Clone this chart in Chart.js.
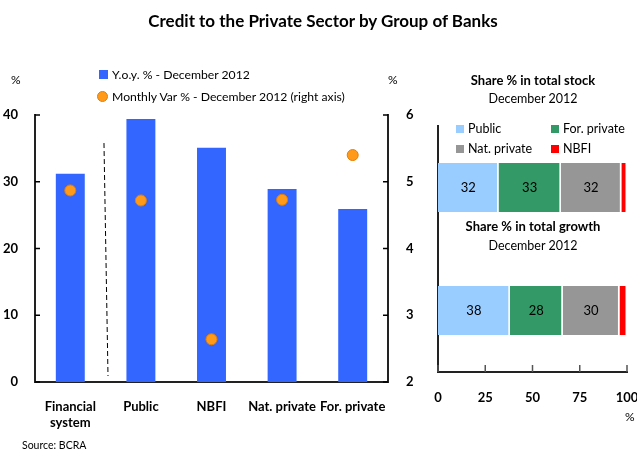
<!DOCTYPE html>
<html>
<head>
<meta charset="utf-8">
<script src="https://cdn.jsdelivr.net/npm/chart.js@4"></script>
<style>
body { margin: 0; background: #fff; font-family: Lato, sans-serif; color: #000; }
#page { position: relative; width: 637px; height: 450px; overflow: hidden; }
.box { position: absolute; top: 0; }
.t { position: absolute; white-space: nowrap; line-height: 1; }
.c { transform: translateX(-50%); }
.b { font-weight: bold; }
.sq { position: absolute; width: 8px; height: 8px; }
.dot { position: absolute; width: 9px; height: 9px; border-radius: 50%; border: 1px solid #e67e00; }
</style>
</head>
<body>
<div id="page">
  <div class="box" style="left:0"><canvas id="leftChart" width="420" height="450"></canvas></div>
  <div class="box" style="left:420px"><canvas id="rightChart" width="217" height="450"></canvas></div>

  <div class="t c b" style="left:323px; top:12px; font-size:17px">Credit to the Private Sector by Group of Banks</div>
  <div class="t" style="left:11px; top:74px; font-size:12px">%</div>
  <div class="t" style="left:388px; top:74px; font-size:12px">%</div>
  <div id="leftLegend"></div>

  <div class="t c b" style="left:533px; top:74px; font-size:13px">Share % in total stock</div>
  <div class="t c" style="left:533px; top:93px; font-size:12.5px">December 2012</div>
  <div class="t c b" style="left:533px; top:220px; font-size:13px">Share % in total growth</div>
  <div class="t c" style="left:533px; top:240px; font-size:12.5px">December 2012</div>
  <div id="rightLegend"></div>
  <div class="t" style="left:625px; top:411px; font-size:12px">%</div>
  <div class="t" style="left:22px; top:440px; font-size:10.5px">Source: BCRA</div>
</div>

<script>
let banks = ['Financial system', 'Public', 'NBFI', 'Nat. private', 'For. private']
let yoyGrowth = [31.2, 39.4, 35.1, 28.9, 25.9]
let monthlyVar = [4.87, 4.72, 2.64, 4.73, 5.40]
let seriesNames = ['Y.o.y. % - December 2012', 'Monthly Var % - December 2012 (right axis)']

let groups = ['Public', 'For. private', 'Nat. private', 'NBFI']
let stockShare = [32, 33, 32, 3]
let growthShare = [38, 28, 30, 4]
let shareRows = ['Share % in total stock', 'Share % in total growth']

let groupColors = ['#99ccff', '#339966', '#969696', '#ff0000']
let tickFont = { family: 'Lato', weight: 'bold', size: 13 }

// small ticks pointing into the plot
let innerTicks = {
  id: 'innerTicks',
  afterDatasetsDraw(chart, args, opts) {
    let ctx = chart.ctx
    ctx.save()
    ctx.strokeStyle = opts.color
    ctx.lineWidth = 1.5
    opts.scales.forEach(id => {
      let s = chart.scales[id]
      s.ticks.forEach((t, i) => {
        let p = s.getPixelForTick(i)
        ctx.beginPath()
        if (s.axis == 'y') {
          let x = s.position == 'left' ? s.right : s.left
          let dir = s.position == 'left' ? 1 : -1
          ctx.moveTo(x, p)
          ctx.lineTo(x + dir * opts.len, p)
        } else {
          ctx.moveTo(p, s.top)
          ctx.lineTo(p, s.top - opts.len)
        }
        ctx.stroke()
      })
    })
    ctx.restore()
  }
}

// dashed line between the system total and the bank groups
let divider = {
  id: 'divider',
  beforeDatasetsDraw(chart, args, opts) {
    let ctx = chart.ctx, x = chart.scales.x, y = chart.scales.y
    ctx.save()
    ctx.strokeStyle = '#000'
    ctx.lineWidth = 1
    ctx.setLineDash([5, 3])
    ctx.beginPath()
    ctx.moveTo(x.getPixelForValue(opts.from[0]), y.getPixelForValue(opts.from[1]))
    ctx.lineTo(x.getPixelForValue(opts.to[0]), y.getPixelForValue(opts.to[1]))
    ctx.stroke()
    ctx.restore()
  }
}

// numbers inside the stacked segments
let segLabels = {
  id: 'segLabels',
  afterDatasetsDraw(chart, args, opts) {
    let ctx = chart.ctx
    ctx.save()
    ctx.font = '13px Lato'
    ctx.fillStyle = '#000'
    ctx.textAlign = 'center'
    ctx.textBaseline = 'middle'
    chart.data.datasets.forEach((ds, di) => {
      chart.getDatasetMeta(di).data.forEach((el, i) => {
        if (ds.data[i] < opts.min) return
        ctx.fillText(ds.data[i], (el.x + el.base) / 2, el.y)
      })
    })
    ctx.restore()
  }
}

let leftCtx = document.getElementById('leftChart').getContext('2d')
let rightCtx = document.getElementById('rightChart').getContext('2d')

let leftChart = new Chart(leftCtx, {
  type: 'bar',
  data: {
    labels: banks.map(b => b == 'Financial system' ? ['Financial', 'system'] : b),
    datasets: [{
      label: seriesNames[1],
      type: 'line',
      data: monthlyVar,
      yAxisID: 'y1',
      showLine: false,
      pointRadius: 5.5,
      pointBackgroundColor: '#ff9a1a',
      pointBorderColor: '#e67e00',
      pointBorderWidth: 1,
      order: 0
    }, {
      label: seriesNames[0],
      data: yoyGrowth,
      yAxisID: 'y',
      backgroundColor: '#3366ff',
      categoryPercentage: 1,
      barPercentage: 0.41,
      order: 1
    }]
  },
  options: {
    responsive: false,
    animation: false,
    layout: { padding: { top: 115, left: 0, right: 0, bottom: 0 } },
    plugins: {
      legend: { display: false },
      tooltip: { enabled: false },
      innerTicks: { scales: ['y', 'y1'], len: 5, color: '#000' },
      divider: { from: [0.477, 35.8], to: [0.534, 0.9] }
    },
    scales: {
      x: {
        grid: { display: false },
        border: { color: '#222', width: 2 },
        ticks: { font: tickFont, color: '#000', padding: 9, maxRotation: 0, autoSkip: false },
        afterFit: s => { s.height = 68; s.paddingLeft = 0; s.paddingRight = 0 }
      },
      y: {
        position: 'left',
        min: 0, max: 40,
        grid: { display: false },
        border: { color: '#222', width: 2 },
        ticks: { stepSize: 10, font: tickFont, color: '#000', padding: 9 },
        afterFit: s => { s.width = 35 }
      },
      y1: {
        position: 'right',
        min: 2, max: 6,
        grid: { display: false },
        border: { color: '#222', width: 2 },
        ticks: { stepSize: 1, font: tickFont, color: '#000', padding: 10 },
        afterFit: s => { s.width = 32 }
      }
    }
  },
  plugins: [innerTicks, divider]
})

let rightChart = new Chart(rightCtx, {
  type: 'bar',
  data: {
    labels: shareRows,
    datasets: groups.map((g, i) => ({
      label: g,
      data: [stockShare[i], growthShare[i]],
      backgroundColor: groupColors[i],
      borderColor: '#fff',
      borderWidth: { left: 0, right: 1.5, top: 0, bottom: 0 },
      borderSkipped: false,
      categoryPercentage: 1,
      barPercentage: 0.4
    }))
  },
  options: {
    indexAxis: 'y',
    responsive: false,
    animation: false,
    layout: { padding: { top: 126, left: 0, right: 10, bottom: 0 } },
    plugins: {
      legend: { display: false },
      tooltip: { enabled: false },
      innerTicks: { scales: ['x'], len: 7, color: '#555' },
      segLabels: { min: 10 }
    },
    scales: {
      x: {
        stacked: true,
        min: 0, max: 100,
        grid: { display: false },
        border: { color: '#222', width: 2 },
        ticks: { stepSize: 25, font: tickFont, color: '#000', padding: 10, maxRotation: 0 },
        afterFit: s => { s.height = 78; s.paddingLeft = 0; s.paddingRight = 0 }
      },
      y: {
        stacked: true,
        grid: { display: false },
        border: { color: '#222', width: 2 },
        ticks: { display: false },
        afterFit: s => { s.width = 18 }
      }
    }
  },
  plugins: [innerTicks, segLabels]
})

// legends as plain text next to coloured marks
let leftLegend = document.getElementById('leftLegend')
leftLegend.innerHTML =
  '<div class="sq" style="left:99px; top:70px; width:9px; height:9px; background:#3366ff"></div>' +
  '<div class="t" style="left:112px; top:69px; font-size:12.2px">' + seriesNames[0] + '</div>' +
  '<div class="dot" style="left:97px; top:91px; background:#ff9a1a"></div>' +
  '<div class="t" style="left:112px; top:91px; font-size:12.2px">' + seriesNames[1] + '</div>'

let legendSpots = [[456, 125], [551, 125], [456, 145], [551, 145]]
let rightLegend = document.getElementById('rightLegend')
rightLegend.innerHTML = legendSpots.map((p, i) =>
  '<div class="sq" style="left:' + p[0] + 'px; top:' + p[1] + 'px; background:' + groupColors[i] + '"></div>' +
  '<div class="t" style="left:' + (p[0] + 12) + 'px; top:' + (p[1] - 2) + 'px; font-size:12.5px">' + groups[i] + '</div>'
).join('')
</script>
</body>
</html>
